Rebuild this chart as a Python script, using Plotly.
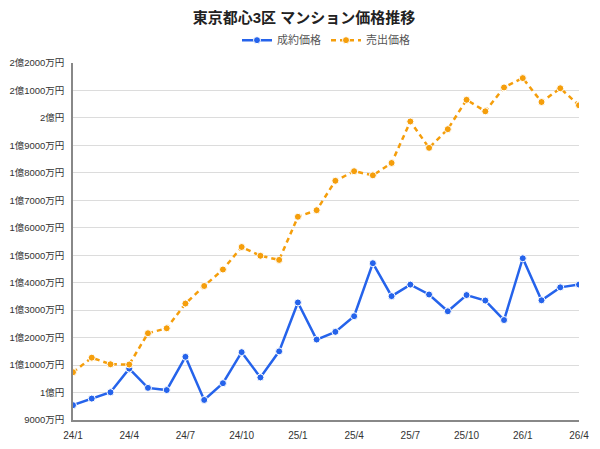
import plotly.graph_objects as go

# 月 (24/1 〜 26/4)
months = ["24/1", "24/2", "24/3", "24/4", "24/5", "24/6", "24/7", "24/8", "24/9", "24/10", "24/11", "24/12",
          "25/1", "25/2", "25/3", "25/4", "25/5", "25/6", "25/7", "25/8", "25/9", "25/10", "25/11", "25/12",
          "26/1", "26/2", "26/3", "26/4"]

# 価格 (万円)
contract_price = [9540, 9780, 10010, 10870, 10170, 10090, 11300, 9730, 10340, 11470, 10550, 11500,
                  13280, 11930, 12210, 12780, 14710, 13510, 13930, 13570, 12960, 13550, 13350, 12640,
                  14890, 13360, 13830, 13930]
asking_price = [10740, 11270, 11030, 11020, 12160, 12340, 13240, 13880, 14480, 15300, 14980, 14830,
                16400, 16640, 17710, 18060, 17910, 18360, 19870, 18910, 19590, 20660, 20240, 21110,
                21450, 20580, 21080, 20460]

x_ticks = ["24/1", "24/4", "24/7", "24/10", "25/1", "25/4", "25/7", "25/10", "26/1", "26/4"]
y_ticks = [9000, 10000, 11000, 12000, 13000, 14000, 15000, 16000, 17000, 18000, 19000, 20000, 21000, 22000]
y_labels = ["9000万円", "1億円", "1億1000万円", "1億2000万円", "1億3000万円", "1億4000万円", "1億5000万円",
            "1億6000万円", "1億7000万円", "1億8000万円", "1億9000万円", "2億円", "2億1000万円", "2億2000万円"]

font = "'Liberation Sans', 'Noto Sans CJK JP', sans-serif"

fig = go.Figure()
fig.add_trace(go.Scatter(
    x=months, y=contract_price, name="成約価格", mode="lines+markers",
    line=dict(color="#2563eb", width=2.5),
    marker=dict(size=7, color="#2563eb", line=dict(color="white", width=1)),
))
fig.add_trace(go.Scatter(
    x=months, y=asking_price, name="売出価格", mode="lines+markers",
    line=dict(color="#f59e0b", width=2.5, dash="5px,4px"),
    marker=dict(size=7, color="#f59e0b", line=dict(color="white", width=1)),
))

# the page body adds 8px, so the figure is 8px smaller than the window
fig.update_layout(
    width=592, height=441,
    margin=dict(l=65, r=21, t=55, b=29, autoexpand=False),
    paper_bgcolor="white", plot_bgcolor="white",
    font=dict(family=font, size=11, color="#333"),
    title=dict(text="<b>東京都心3区 マンション価格推移</b>", x=0.5, xanchor="center", y=0.977, yanchor="middle",
               font=dict(size=15, color="#222")),
    legend=dict(orientation="h", x=0.5, xanchor="center", y=1.064, yanchor="middle",
                font=dict(size=11, color="#555"), itemwidth=30),
    showlegend=True,
)
fig.update_xaxes(
    type="category", tickmode="array", tickvals=x_ticks, ticktext=x_ticks, automargin=False,
    showgrid=False, showline=True, linecolor="#888", linewidth=1.5,
    ticks="outside", ticklen=5, tickcolor="rgba(0,0,0,0)",
    tickfont=dict(size=10, color="#333"), range=[0, len(months) - 1],
)
fig.update_yaxes(
    range=[9000, 22000], tickmode="array", tickvals=y_ticks, ticktext=y_labels, automargin=False,
    showgrid=True, gridcolor="#dcdcdc", gridwidth=1,
    showline=True, linecolor="#888", linewidth=1.5, zeroline=False,
    ticks="outside", ticklen=5, tickcolor="rgba(0,0,0,0)",
    tickfont=dict(size=9.5, color="#333"),
)

fig.write_html("out.html")
